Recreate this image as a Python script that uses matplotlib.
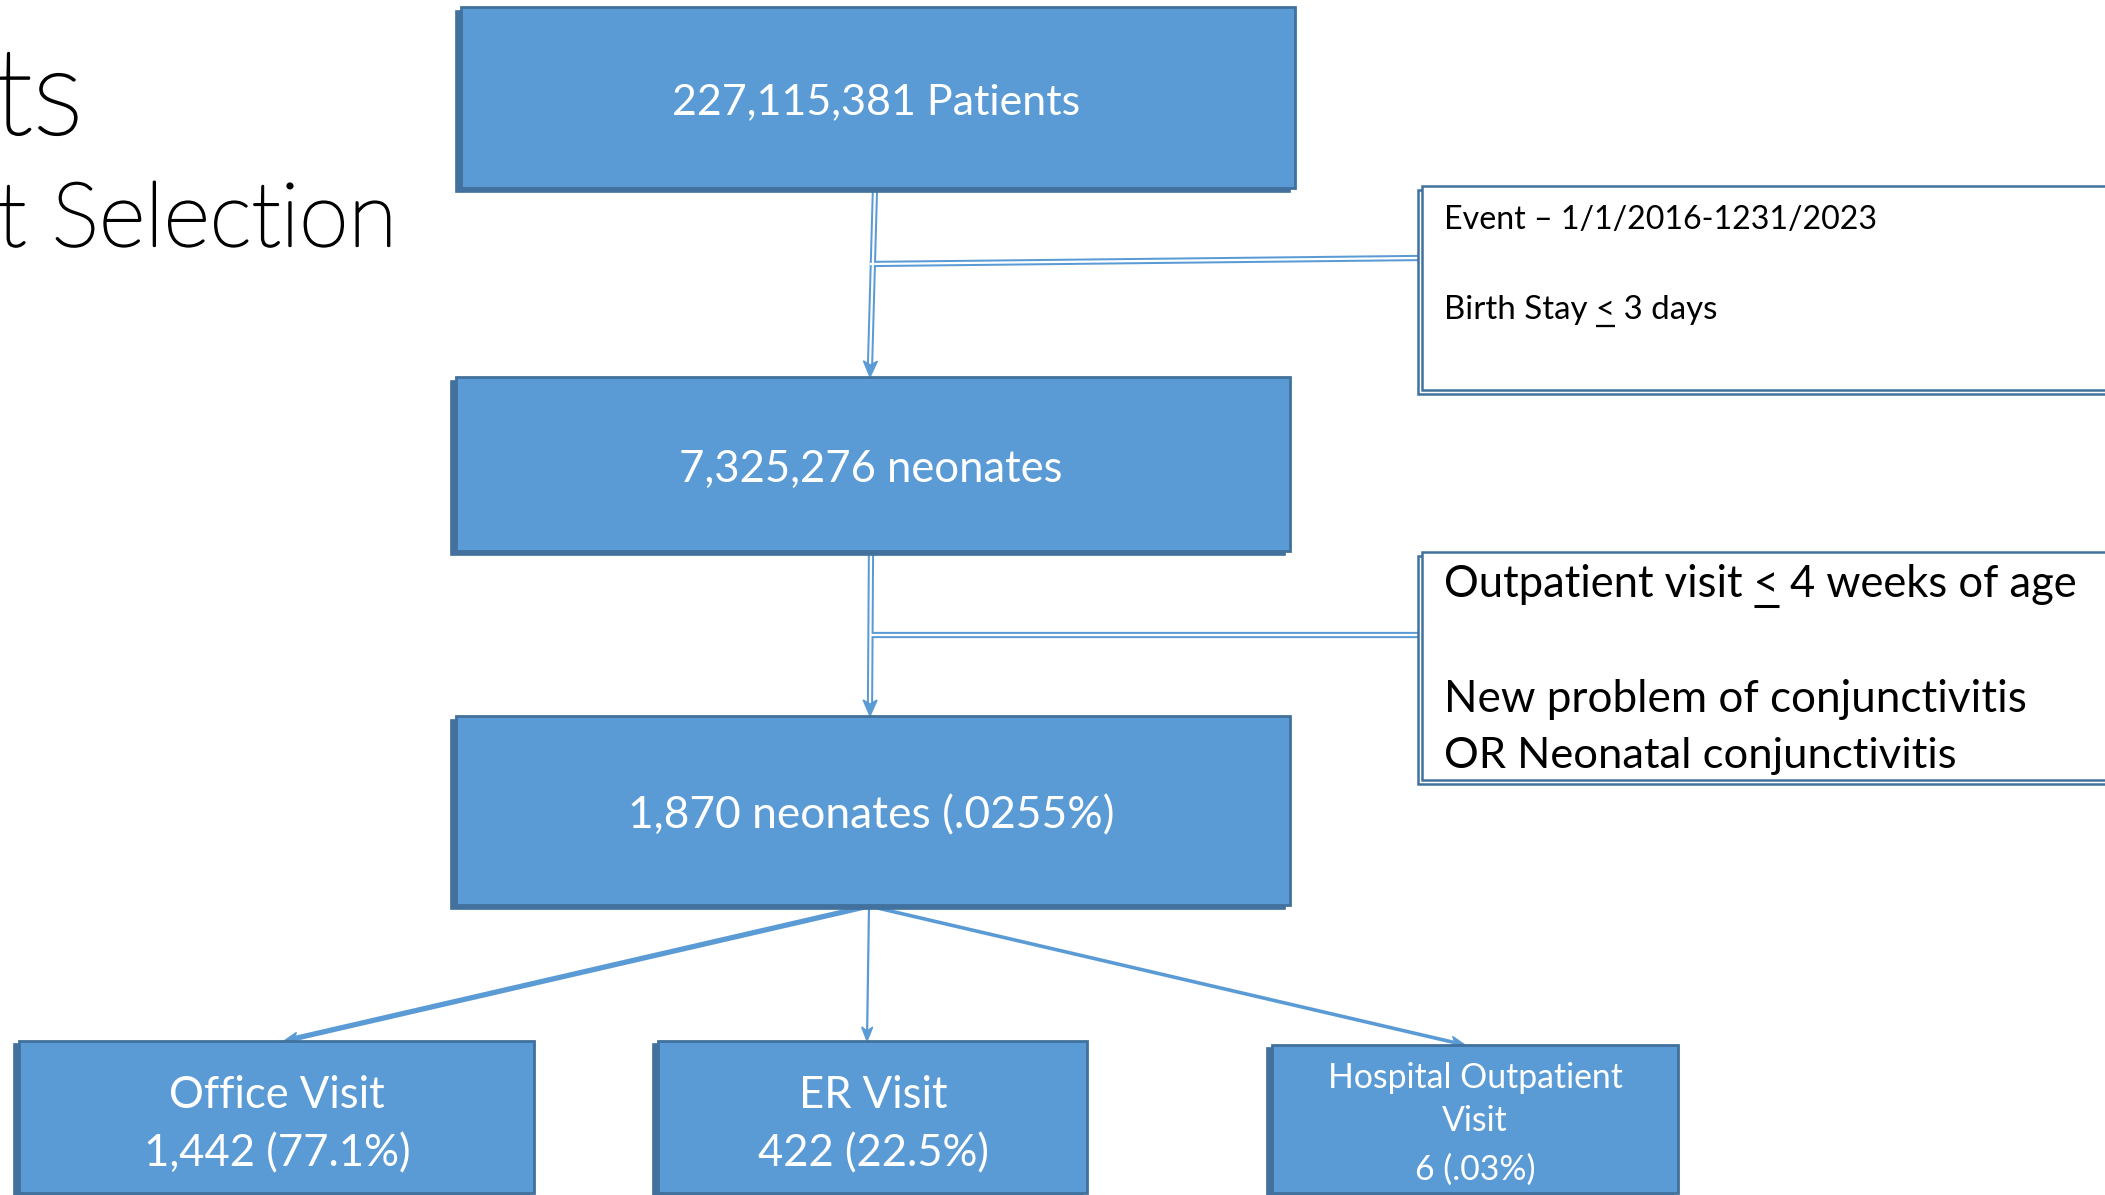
import matplotlib
matplotlib.use('Agg')
import matplotlib.pyplot as plt
from matplotlib.patches import Rectangle, Polygon
import matplotlib.patheffects as pe
import numpy as np

# ---------------- data ----------------
title_lines = ["ts", "t Selection"]
main_labels = ["227,115,381 Patients", "7,325,276 neonates", "1,870 neonates (.0255%)"]
criteria_1 = ["Event \u2013 1/1/2016-1231/2023", ("Birth Stay ", "<", " 3 days")]
criteria_2 = [("Outpatient visit ", "<", " 4 weeks of age"),
              "New problem of conjunctivitis", "OR Neonatal conjunctivitis"]
outcome_names = ["Office Visit", "ER Visit", "Hospital Outpatient\nVisit"]
outcome_counts = ["1,442", "422", "6"]
outcome_pcts = ["77.1%", "22.5%", ".03%"]

# ---------------- layout (pixel coords, y down) ----------------
W, H = 2105, 1195
FILL = '#5B9BD5'
EDGE = '#41719C'
FONT = 'Lato'

main_boxes = [(461, 7, 1295, 188), (456, 377, 1290, 551), (456, 716, 1290, 905)]
main_text_w = [409, 383, 485]
out_boxes = [(19, 1041, 534, 1193), (658, 1041, 1087, 1193), (1272, 1045, 1678, 1193)]
crit_boxes = [(1422, 186, 2120, 390), (1422, 552, 2120, 780)]

fig = plt.figure(figsize=(W / 100, H / 100), dpi=100)
ax = fig.add_axes([0, 0, 1, 1])
ax.set_xlim(0, W)
ax.set_ylim(H, 0)
ax.axis('off')
renderer = fig.canvas.get_renderer()


def fit(t, target_w):
    bb = t.get_window_extent(renderer)
    t.set_fontsize(t.get_fontsize() * target_w / bb.width)
    return t


def blue_box(b, dx=-5, dy=4):
    x0, y0, x1, y1 = b
    ax.add_patch(Rectangle((x0 + dx, y0 + dy), x1 - x0, y1 - y0, facecolor=EDGE,
                           edgecolor=EDGE, lw=1.2, zorder=2))
    ax.add_patch(Rectangle((x0, y0), x1 - x0, y1 - y0, facecolor=FILL,
                           edgecolor=EDGE, lw=2, zorder=3))


def white_box(b, dx=-4, dy=4):
    x0, y0, x1, y1 = b
    ax.add_patch(Rectangle((x0 + dx, y0 + dy), x1 - x0, y1 - y0, facecolor='white',
                           edgecolor=EDGE, lw=1.8, zorder=2))
    ax.add_patch(Rectangle((x0, y0), x1 - x0, y1 - y0, facecolor='white',
                           edgecolor=EDGE, lw=1.8, zorder=3))


def dbl_line(p0, p1):
    ax.plot([p0[0], p1[0]], [p0[1], p1[1]], color=FILL, lw=4.5, zorder=1,
            solid_capstyle='butt')
    ax.plot([p0[0], p1[0]], [p0[1], p1[1]], color='white', lw=1.6, zorder=1.1,
            solid_capstyle='butt')


def arrow_head(tip, frm, length=16, width=14):
    tip = np.array(tip, float)
    frm = np.array(frm, float)
    d = tip - frm
    d /= np.hypot(*d)
    n = np.array([-d[1], d[0]])
    base = tip - d * length
    pts = [tip, base + n * width / 2, base + d * 4, base - n * width / 2]
    ax.add_patch(Polygon(pts, closed=True, facecolor=FILL, edgecolor=FILL, lw=1, zorder=1.5))


# ---------------- title ----------------
stroke = [pe.withStroke(linewidth=1.6, foreground='black')]
t = ax.text(83, 134, title_lines[0], fontsize=66, family=FONT, fontweight='light',
            color='black', ha='right', va='baseline', path_effects=stroke)
fit(t, 90)
t = ax.text(397, 246, title_lines[1], fontsize=60, family=FONT, fontweight='light',
            color='black', ha='right', va='baseline', path_effects=stroke)
fit(t, 400)

# ---------------- connectors ----------------
dbl_line((875, 188), (870, 366))
arrow_head((870, 377), (875, 188))
dbl_line((870, 264), (1418, 258))
dbl_line((871, 551), (870, 705))
arrow_head((870, 716), (871, 551))
dbl_line((871, 635), (1418, 635))

src = (869, 906)
targets = [(284, 1041), (867, 1041), (1465, 1045)]
widths = [3.8, 1.6, 2.6]
for tg, lw in zip(targets, widths):
    d = np.array(tg, float) - np.array(src, float)
    d /= np.hypot(*d)
    end = np.array(tg) - d * 10
    ax.plot([src[0], end[0]], [src[1], end[1]], color=FILL, lw=lw, zorder=1)
    arrow_head(tg, src, length=14, width=11)

# ---------------- main boxes ----------------
for b, lab, tw in zip(main_boxes, main_labels, main_text_w):
    blue_box(b)
    cx = (b[0] + b[2]) / 2 - 2
    cy = (b[1] + b[3]) / 2 + 5
    t = ax.text(cx, cy, lab, fontsize=30, family=FONT, color='white',
                ha='center', va='center', zorder=5)
    fit(t, tw)

# ---------------- outcome boxes ----------------
name_pos = [(277, 1095), (873, 1095), (1475, 1078)]
count_pos = [(277, 1154), (873, 1154), (1475, 1170)]
name_w = [209, 142, 294]
count_w = [267, 232, 143]
for i, b in enumerate(out_boxes):
    blue_box(b, dx=-5, dy=3)
    if '\n' in outcome_names[i]:
        l1, l2 = outcome_names[i].split('\n')
        t = ax.text(name_pos[i][0], name_pos[i][1], l1, fontsize=22, family=FONT,
                    color='white', ha='center', va='center', zorder=5)
        fit(t, name_w[i])
        ax.text(name_pos[i][0], 1121, l2, fontsize=t.get_fontsize(), family=FONT,
                color='white', ha='center', va='center', zorder=5)
        cs = t.get_fontsize()
    else:
        t = ax.text(name_pos[i][0], name_pos[i][1], outcome_names[i], fontsize=28,
                    family=FONT, color='white', ha='center', va='center', zorder=5)
        cs = None
    lab = f"{outcome_counts[i]} ({outcome_pcts[i]})"
    t2 = ax.text(count_pos[i][0], count_pos[i][1], lab, fontsize=28, family=FONT,
                 color='white', ha='center', va='center', zorder=5)
    if cs is not None:
        t2.set_fontsize(cs)
    else:
        fit(t2, count_w[i])
        t.set_fontsize(t2.get_fontsize())

# ---------------- criteria boxes ----------------
for b in crit_boxes:
    white_box(b)


def crit_line(x, y, content, target_w):
    if isinstance(content, tuple):
        full = ''.join(content)
    else:
        full = content
    t = ax.text(x, y, full, fontsize=24, family=FONT, color='black',
                ha='left', va='center', zorder=5)
    fit(t, target_w)
    if isinstance(content, tuple):
        fs = t.get_fontsize()
        pre = ax.text(x, y, content[0] + content[1], fontsize=fs, family=FONT,
                      ha='left', va='center', alpha=0)
        sym = ax.text(x, y, content[1], fontsize=fs, family=FONT,
                      ha='left', va='center', alpha=0)
        bb_pre = pre.get_window_extent(renderer)
        bb_sym = sym.get_window_extent(renderer)
        right = bb_pre.x1
        left = right - bb_sym.width
        ybase_disp = bb_sym.y0
        inv = ax.transData.inverted()
        (dl, dy_), = inv.transform([(left, ybase_disp)])
        (dr, _), = inv.transform([(right, ybase_disp)])
        uy = dy_ + fs * 0.06
        ax.plot([dl, dr], [uy, uy], color='black', lw=max(1.5, fs * 0.07), zorder=5,
                solid_capstyle='butt')
        pre.remove()
        sym.remove()
    return t


crit_line(1444, 220, criteria_1[0], 435)
crit_line(1444, 310, criteria_1[1], 273)
crit_line(1444, 584, criteria_2[0], 634)
crit_line(1444, 699, criteria_2[1], 582)
crit_line(1444, 756, criteria_2[2], 512)

fig.savefig('out.png', dpi=100)
